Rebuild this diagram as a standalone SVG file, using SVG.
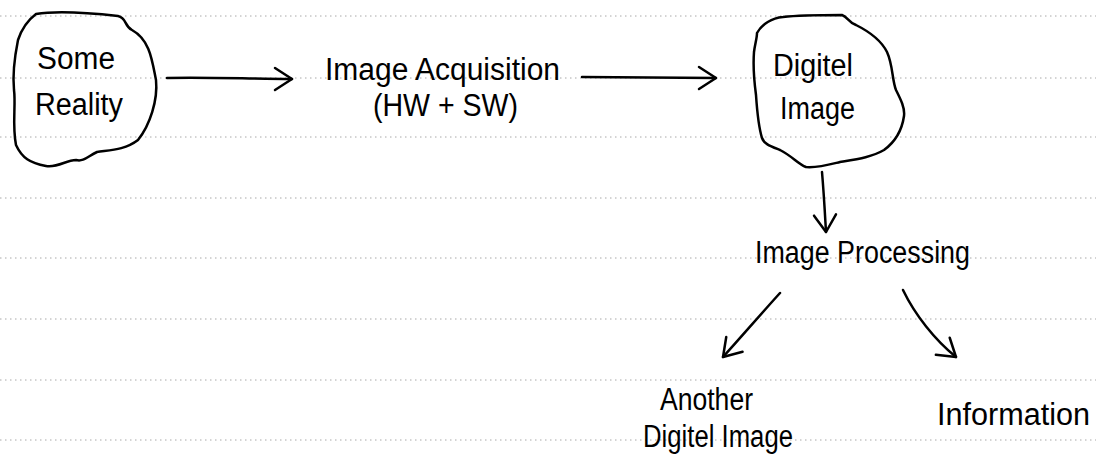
<svg xmlns="http://www.w3.org/2000/svg" width="1096" height="472" viewBox="0 0 1096 472">
  <defs>
    <style>
      .rule { stroke: #a8a8a8; stroke-width: 1; stroke-dasharray: 1.5 3.5; fill: none; }
      .ink { stroke: #000; stroke-width: 2.5; fill: none; stroke-linecap: round; stroke-linejoin: round; }
      .hand { font-family: "Liberation Sans", "DejaVu Sans", sans-serif; fill: #000; font-size: 31px; }
    </style>
    <marker id="arrow" markerUnits="userSpaceOnUse" markerWidth="24" markerHeight="28" viewBox="0 0 24 28" refX="20" refY="14" orient="auto">
      <path d="M3,3 L20,14 L3,25" fill="none" stroke="#000" stroke-width="2.5" stroke-linecap="round" stroke-linejoin="round"/>
    </marker>
  </defs>
  <rect width="1096" height="472" fill="#fff"/>
  <g id="paper-lines">
    <line class="rule" x1="0" y1="16" x2="1096" y2="16"/>
    <line class="rule" x1="0" y1="78" x2="1096" y2="78"/>
    <line class="rule" x1="0" y1="137" x2="1096" y2="137"/>
    <line class="rule" x1="0" y1="198" x2="1096" y2="198"/>
    <line class="rule" x1="0" y1="258" x2="1096" y2="258"/>
    <line class="rule" x1="0" y1="319" x2="1096" y2="319"/>
    <line class="rule" x1="0" y1="380" x2="1096" y2="380"/>
    <line class="rule" x1="0" y1="440" x2="1096" y2="440"/>
  </g>
  <g id="node-some-reality">
    <path class="ink" d="M36,14 C60,10 100,14 118,16 C127,18 124,26 132,30 C150,40 152,60 156,80 C158,100 150,125 138,140 C125,150 110,150 97,152 C88,156 84,162 76,160 C66,160 58,168 46,166 C30,163 22,158 16,145 C12,125 16,105 14,90 C12,70 16,50 18,40 C22,28 28,20 36,14 Z"/>
    <text class="hand" x="37" y="69" textLength="78" lengthAdjust="spacingAndGlyphs">Some</text>
    <text class="hand" x="35" y="115" textLength="88" lengthAdjust="spacingAndGlyphs">Reality</text>
  </g>
  <g id="node-acquisition">
    <text class="hand" x="325" y="80" textLength="235" lengthAdjust="spacingAndGlyphs">Image Acquisition</text>
    <text class="hand" x="373" y="116" textLength="145" lengthAdjust="spacingAndGlyphs">(HW + SW)</text>
  </g>
  <g id="node-digital-image">
    <path class="ink" d="M757,33 C762,24 772,18 783,17 C800,15 822,15 842,15 C848,17 848,22 856,25 C870,32 882,42 887,52 C893,65 892,80 896,90 C901,100 905,108 904,116 C902,130 895,142 884,150 C872,157 858,159 840,162 C828,165 818,168 806,167 C798,164 792,156 780,150 C770,146 764,144 762,138 C758,125 757,110 756,95 C754,80 753,65 754,52 C755,44 757,38 757,33"/>
    <text class="hand" x="773" y="76" textLength="80" lengthAdjust="spacingAndGlyphs">Digitel</text>
    <text class="hand" x="780" y="119" textLength="75" lengthAdjust="spacingAndGlyphs">Image</text>
  </g>
  <g id="node-processing">
    <text class="hand" x="755" y="263" textLength="215" lengthAdjust="spacingAndGlyphs">Image Processing</text>
  </g>
  <g id="node-another">
    <text class="hand" x="660" y="410" textLength="93" lengthAdjust="spacingAndGlyphs">Another</text>
    <text class="hand" x="643" y="447" textLength="150" lengthAdjust="spacingAndGlyphs">Digitel Image</text>
  </g>
  <g id="node-information">
    <text class="hand" x="937" y="425" textLength="153" lengthAdjust="spacingAndGlyphs">Information</text>
  </g>
  <g id="connectors">
    <path class="ink" d="M167,78 C210,77 250,79 292,79" marker-end="url(#arrow)"/>
    <path class="ink" d="M582,77 C630,77 675,78 716,78" marker-end="url(#arrow)"/>
    <path class="ink" d="M822,172 C824,195 825,215 826,232" marker-end="url(#arrow)"/>
    <path class="ink" d="M780,293 C760,315 742,336 723,357" marker-end="url(#arrow)"/>
    <path class="ink" d="M903,290 C915,315 935,340 956,357" marker-end="url(#arrow)"/>
  </g>
</svg>
